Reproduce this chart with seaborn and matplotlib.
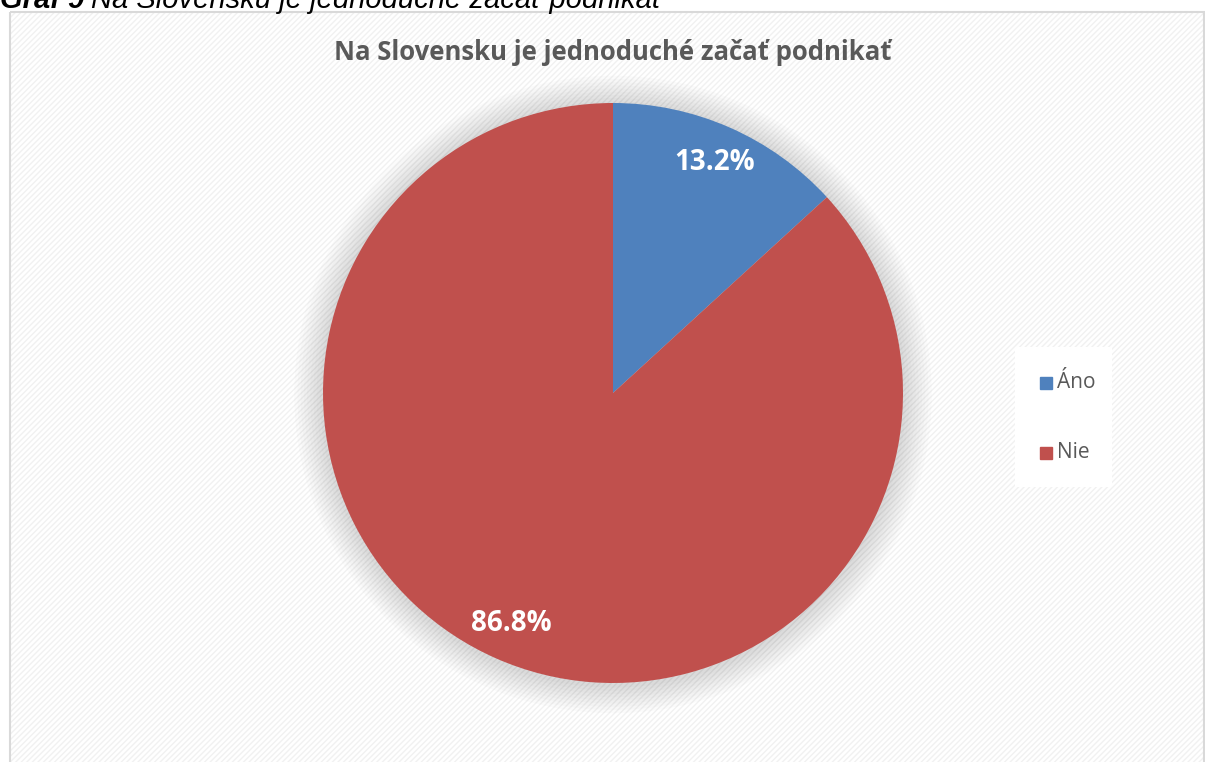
import matplotlib.pyplot as plt
import seaborn as sns
from matplotlib.patches import Rectangle, Circle

# data
labels = ['Áno', 'Nie']
values = [13.2, 86.8]
colors = ['#4F81BD', '#C0504D']
title = 'Na Slovensku je jednoduché začať podnikať'
caption_bold = 'Graf 9'
caption_rest = 'Na Slovensku je jednoduché začať podnikať'

sns.set_theme(style='white')
plt.rcParams['font.family'] = ['Open Sans', 'DejaVu Sans']

W, H = 1205, 762
fig = plt.figure(figsize=(W / 100, H / 100), dpi=100)
fig.patch.set_facecolor('white')

# chart frame with faint diagonal hatching
bg = fig.add_axes([0, 0, 1, 1])
bg.set_xlim(0, W)
bg.set_ylim(H, 0)
bg.axis('off')
bg.add_patch(Rectangle((10, 12), 1194, 760, facecolor='white',
                       edgecolor='#f1f1f1', hatch='//////', linewidth=0))
bg.add_patch(Rectangle((10, 12), 1194, 760, facecolor='none',
                       edgecolor='#d9d9d9', linewidth=1.5))

# caption, cut off at the top edge like the original
t1 = bg.text(0, 8, caption_bold, fontsize=21, fontstyle='italic', fontweight='bold',
             family='Liberation Sans', color='black', va='baseline')
fig.canvas.draw()
ext = t1.get_window_extent()
bg.text(ext.x1 + 7, 8, caption_rest, fontsize=21, fontstyle='italic',
        family='Liberation Sans', color='black', va='baseline')

bg.text(613, 52, title, fontsize=18.5, fontweight='bold', color='#595959',
        ha='center', va='center')

# pie
cx, cy, r = 613, 393, 290
ax = fig.add_axes([(cx - r) / W, 1 - (cy + r) / H, 2 * r / W, 2 * r / H])
ax.axis('off')

# soft shadow
for i in range(9):
    ax.add_patch(Circle((0.0, -0.005), 1 + 0.011 * (i + 1), facecolor='black',
                        alpha=0.016, linewidth=0, zorder=0, clip_on=False))

wedges, texts, autotexts = ax.pie(values, colors=colors, startangle=90,
                                  counterclock=False, autopct='%.1f%%',
                                  pctdistance=0.87, radius=1,
                                  wedgeprops=dict(linewidth=0),
                                  textprops=dict(color='white', fontsize=20,
                                                 fontweight='bold'))
for w in wedges:
    w.set_zorder(2)
for t in autotexts:
    t.set_zorder(3)
ax.set_xlim(-1, 1)
ax.set_ylim(-1, 1)

# legend box
bg.add_patch(Rectangle((1015, 347), 97, 140, facecolor='white',
                       edgecolor='none', zorder=3))
for c, lab, y in zip(colors, labels, [383, 453]):
    bg.plot(1046, y, marker='s', markersize=8, color=c, zorder=4)
    bg.text(1057, y, lab, fontsize=15, color='#595959', va='center', zorder=4)

fig.savefig('out.png', dpi=100)
